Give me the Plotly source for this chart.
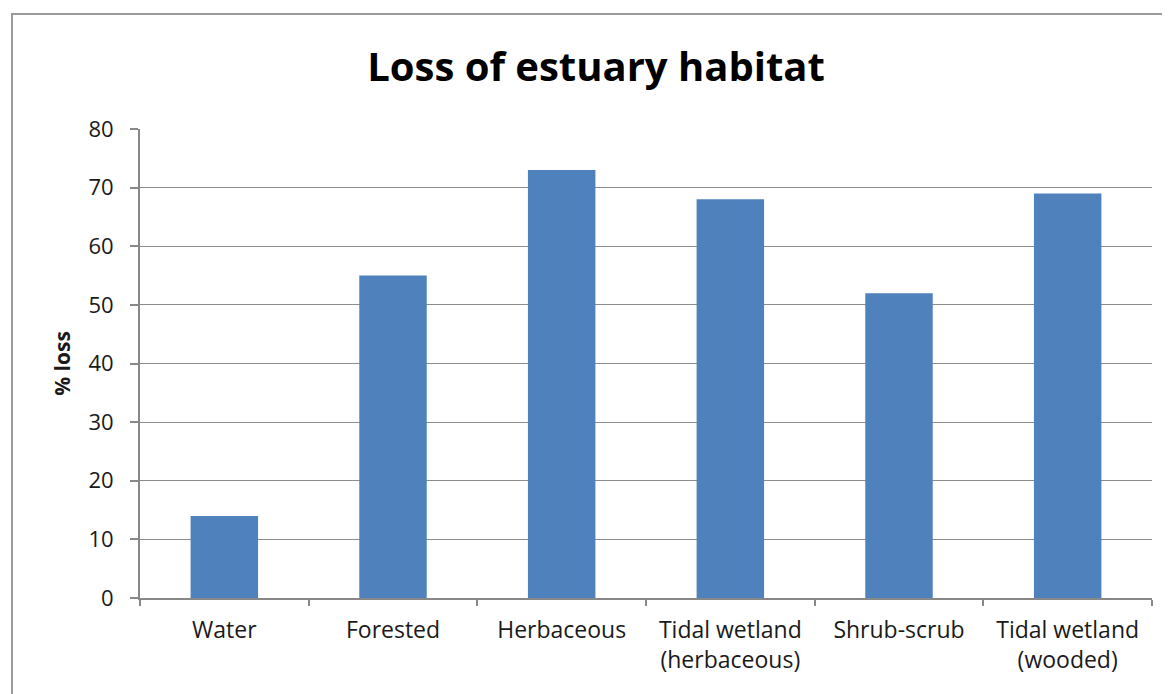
import plotly.graph_objects as go

categories = ["Water", "Forested", "Herbaceous", "Tidal wetland<br>(herbaceous)", "Shrub-scrub", "Tidal wetland<br>(wooded)"]
loss_pct = [14, 55, 73, 68, 52, 69]
y_ticks = [0, 10, 20, 30, 40, 50, 60, 70, 80]

fig = go.Figure(go.Bar(x=categories, y=loss_pct, marker=dict(color="#4F81BD", line=dict(width=0))))

OFF = 7  # page body offset
L, R, T, B = 139 - OFF, 19 + OFF, 128 - OFF, 97 + OFF
W, H = 1170, 694
pw = W - L - R
ph = H - T - B

fig.update_layout(
    width=W, height=H,
    margin=dict(l=L, r=R, t=T, b=B),
    paper_bgcolor="white", plot_bgcolor="white",
    bargap=0.6,
    showlegend=False,
    font=dict(family="Open Sans", color="#1a1a1a", size=20),
    title=dict(text="<b>Loss of estuary habitat</b>", x=(595 - OFF) / W, xanchor="center",
               y=1 - (66 - OFF) / H, yanchor="middle", font=dict(size=40, color="#000000")),
)
fig.update_xaxes(
    showline=True, linecolor="#888888", linewidth=2,
    ticks="outside", tickson="boundaries", ticklen=6, tickcolor="#888888", tickwidth=2,
    showgrid=False, tickfont=dict(size=23), ticklabelstandoff=10,
)
fig.update_yaxes(
    range=[0, 80], tickvals=y_ticks, showline=True, linecolor="#888888", linewidth=2,
    ticks="outside", ticklen=8, tickcolor="#888888", tickwidth=1.5,
    showgrid=True, gridcolor="#8c8c8c", gridwidth=1.2, zeroline=False,
    tickfont=dict(size=22), ticklabelstandoff=12,
    title=dict(text="<b>% loss</b>", font=dict(size=21), standoff=12),
)
# outer chart border
fig.add_shape(type="rect", xref="paper", yref="paper",
              x0=(11 - OFF - L) / pw, x1=(1190 - L) / pw,
              y0=(H - B - 720) / ph, y1=(H - B - (13 - OFF)) / ph,
              line=dict(color="#9a9a9a", width=2), fillcolor="rgba(0,0,0,0)", layer="below")

fig.write_html("out.html")
